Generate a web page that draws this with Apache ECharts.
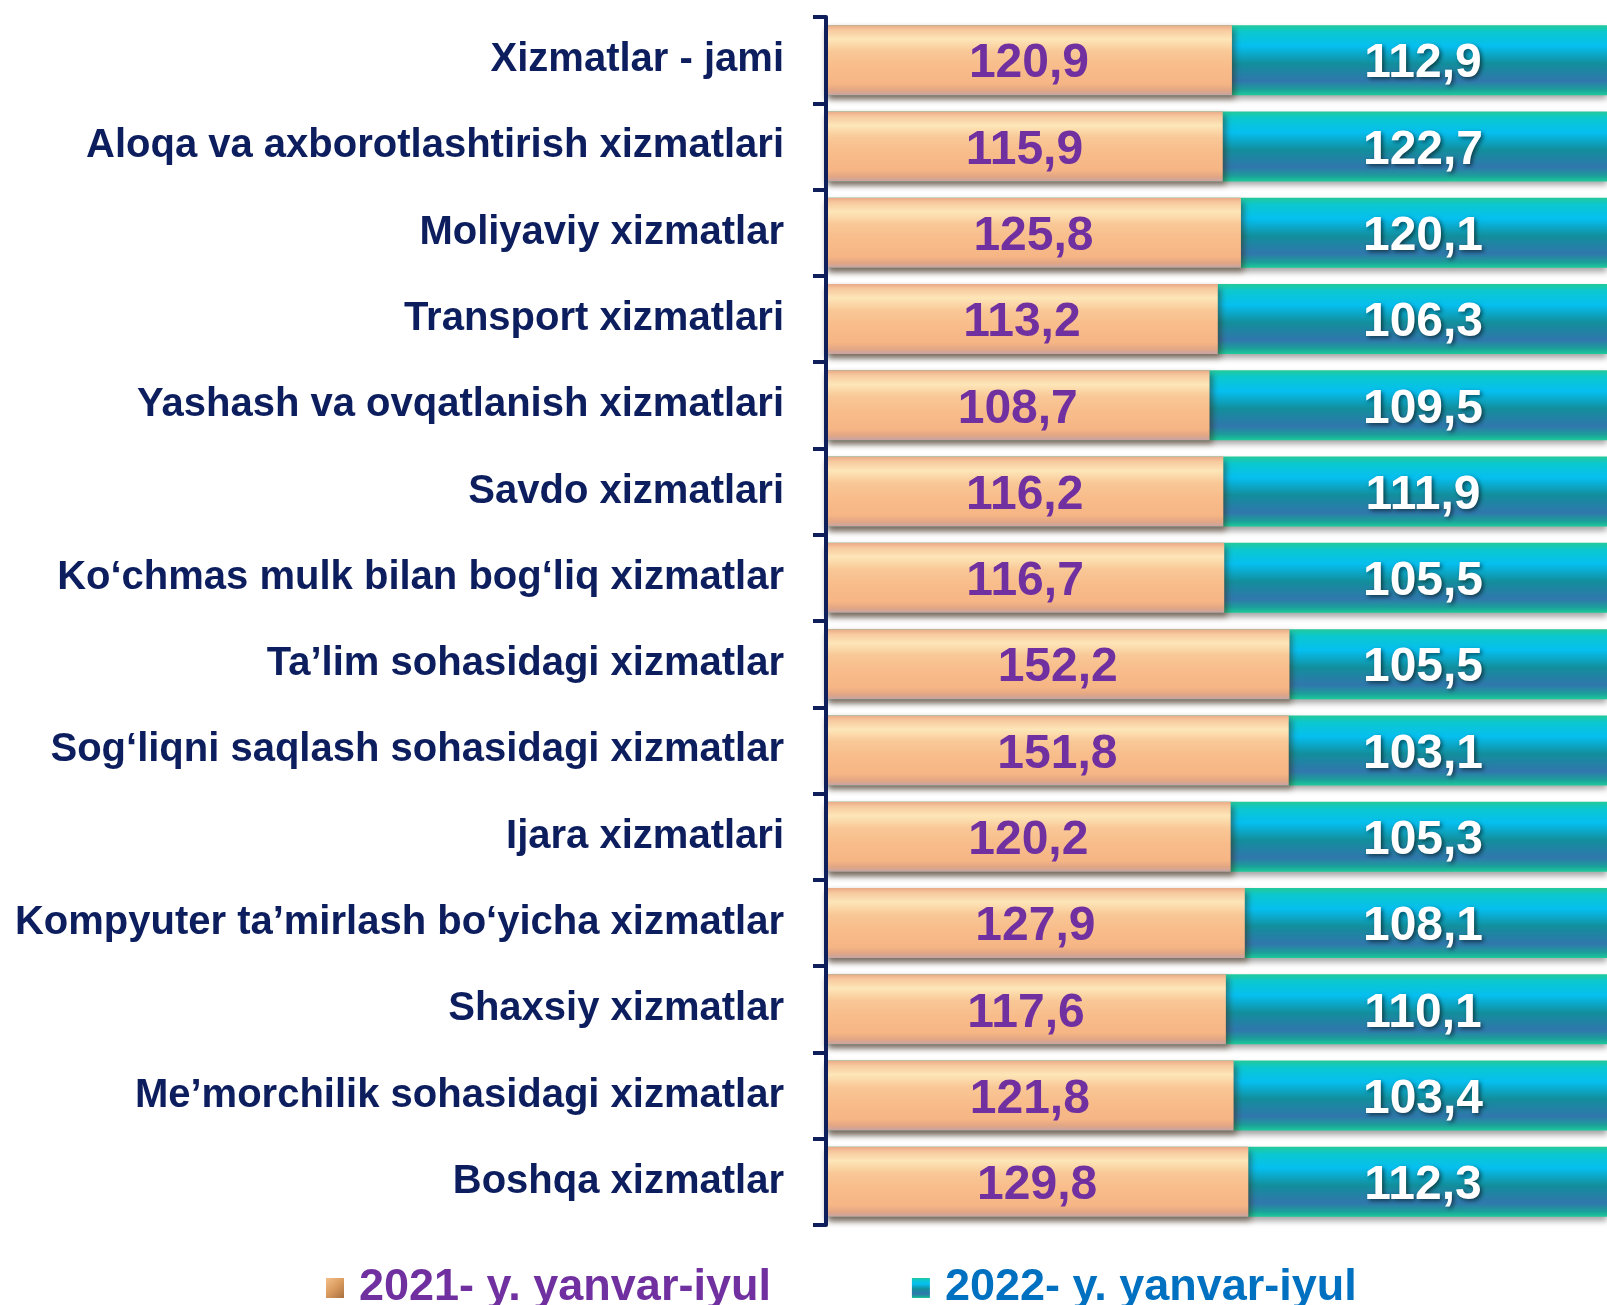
<!DOCTYPE html>
<html>
<head>
<meta charset="utf-8">
<script src="https://cdn.jsdelivr.net/npm/echarts@6/dist/echarts.min.js"></script>
<style>
html,body{margin:0;padding:0;background:#fff;}
#chart{width:1607px;height:1305px;}
</style>
</head>
<body>
<div id="chart"></div>
<script>
const categories = [
  "Xizmatlar - jami",
  "Aloqa va axborotlashtirish xizmatlari",
  "Moliyaviy xizmatlar",
  "Transport xizmatlari",
  "Yashash va ovqatlanish xizmatlari",
  "Savdo xizmatlari",
  "Ko‘chmas mulk bilan bog‘liq xizmatlar",
  "Ta’lim sohasidagi xizmatlar",
  "Sog‘liqni saqlash sohasidagi xizmatlar",
  "Ijara xizmatlari",
  "Kompyuter ta’mirlash bo‘yicha xizmatlar",
  "Shaxsiy xizmatlar",
  "Me’morchilik sohasidagi xizmatlar",
  "Boshqa xizmatlar"
];
const values2021 = [120.9,115.9,125.8,113.2,108.7,116.2,116.7,152.2,151.8,120.2,127.9,117.6,121.8,129.8];
const values2022 = [112.9,122.7,120.1,106.3,109.5,111.9,105.5,105.5,103.1,105.3,108.1,110.1,103.4,112.3];
const seriesNames = ["2021- y. yanvar-iyul", "2022- y. yanvar-iyul"];

const FONT = '"Liberation Sans", Arial, sans-serif';
const fmt = p => String(p.value).replace('.', ',');

const orangeGrad = new echarts.graphic.LinearGradient(0,0,0,1,[
  {offset:0, color:'#eaa987'},
  {offset:0.07, color:'#f7c99e'},
  {offset:0.2, color:'#fde6b8'},
  {offset:0.38, color:'#f9c796'},
  {offset:0.6, color:'#f8bc8a'},
  {offset:0.84, color:'#f6b585'},
  {offset:0.93, color:'#e2a684'},
  {offset:1, color:'#c7a4a4'}
]);
const tealGrad = new echarts.graphic.LinearGradient(0,0,0,1,[
  {offset:0, color:'#23c99a'},
  {offset:0.1, color:'#0bc8cf'},
  {offset:0.3, color:'#05bff0'},
  {offset:0.55, color:'#128e9c'},
  {offset:0.8, color:'#3077ad'},
  {offset:0.92, color:'#1c9e9a'},
  {offset:1, color:'#1ccb9b'}
]);
const legendOrange = new echarts.graphic.LinearGradient(0,0,1,1,[
  {offset:0, color:'#f3c08a'},
  {offset:0.5, color:'#d99a5e'},
  {offset:1, color:'#a8703f'}
]);

const chart = echarts.init(document.getElementById('chart'), null, {renderer:'canvas'});
chart.setOption({
  animation: false,
  backgroundColor: '#ffffff',
  grid: {left: 826, right: 0, top: 17, bottom: 80, containLabel: false},
  legend: {
    left: 321, top: 1257,
    itemWidth: 18, itemHeight: 20, itemGap: 141,
    icon: 'rect',
    textStyle: {fontFamily: FONT, fontSize: 45, fontWeight: 'bold', lineHeight: 52, padding: [0,0,0,10]},
    data: [
      {name: seriesNames[0], itemStyle: {color: legendOrange, shadowBlur: 0, shadowOffsetX: 0, shadowOffsetY: 0}, textStyle: {color: '#7030a0'}},
      {name: seriesNames[1], itemStyle: {shadowBlur: 0, shadowOffsetX: 0, shadowOffsetY: 0}, textStyle: {color: '#0070c0'}}
    ]
  },
  xAxis: [
    {type: 'value', min: -100, max: 325, startValue: -100, show: false, splitLine: {show: false}},
    {type: 'value', min: 0, max: 100, show: false, splitLine: {show: false}}
  ],
  yAxis: {
    type: 'category',
    data: categories,
    inverse: true,
    z: 10,
    axisLine: {show: true, onZero: false, lineStyle: {color: '#0f1f5c', width: 4}},
    axisTick: {show: true, length: 13, lineStyle: {color: '#0f1f5c', width: 4}},
    axisLabel: {
      fontFamily: FONT, fontSize: 40, fontWeight: 'bold', color: '#0d1e5e', margin: 42
    },
    splitLine: {show: false}
  },
  series: [
    {
      name: seriesNames[1],
      type: 'bar',
      xAxisIndex: 1,
      data: values2022,
      barWidth: 70,
      barGap: '-100%',
      clip: true,
      itemStyle: {
        color: tealGrad,
        shadowColor: 'rgba(0,0,0,0.35)', shadowBlur: 6, shadowOffsetY: 4
      },
      label: {
        show: true,
        position: [597, '50%'],
        offset: [0, 4],
        align: 'center', verticalAlign: 'middle',
        formatter: fmt,
        fontFamily: FONT, fontSize: 48, fontWeight: 'bold', color: '#ffffff',
        textShadowColor: 'rgba(0,0,0,0.55)', textShadowBlur: 4, textShadowOffsetX: 2, textShadowOffsetY: 2
      },
      z: 2
    },
    {
      name: seriesNames[0],
      type: 'bar',
      xAxisIndex: 0,
      data: values2021,
      barWidth: 70,
      barGap: '-100%',
      itemStyle: {
        color: orangeGrad,
        shadowColor: 'rgba(60,30,0,0.45)', shadowBlur: 6, shadowOffsetX: 3, shadowOffsetY: 4
      },
      label: {
        show: true,
        position: 'inside',
        offset: [0, 4],
        formatter: fmt,
        fontFamily: FONT, fontSize: 48, fontWeight: 'bold', color: '#7030a0'
      },
      z: 3
    }
  ]
});
</script>
</body>
</html>
